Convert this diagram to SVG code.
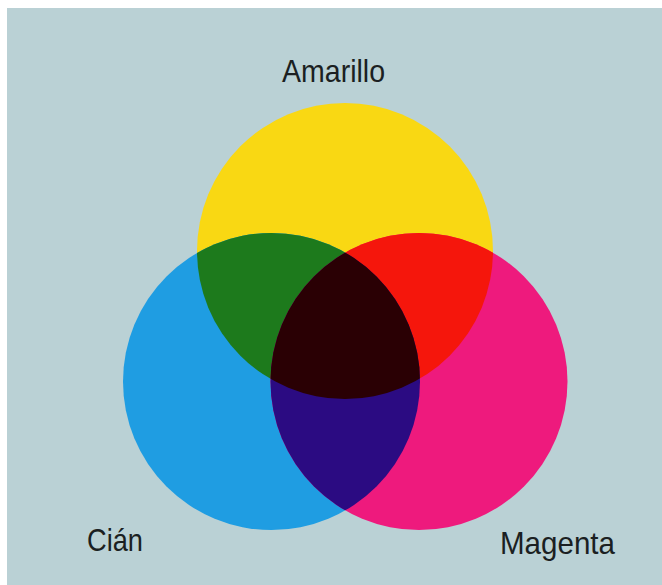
<svg xmlns="http://www.w3.org/2000/svg" width="662" height="585" viewBox="0 0 662 585">
<style>
.lbl{font-family:"Liberation Sans","DejaVu Sans",sans-serif;font-size:32px;fill:#1b1f22}
</style>
<defs>
<clipPath id="cy"><circle cx="345" cy="251" r="148"/></clipPath>
<clipPath id="cc"><circle cx="271.5" cy="381.5" r="148.5"/></clipPath>
<clipPath id="cm"><circle cx="419" cy="381.5" r="148.5"/></clipPath>
</defs>
<rect x="0" y="0" width="662" height="585" fill="#ffffff"/>
<rect x="7" y="8" width="655" height="577" fill="#bad1d5"/>
<g id="amarillo">
<circle cx="345" cy="251" r="148" fill="#f9d813"/>
<text class="lbl" x="282" y="82" textLength="103" lengthAdjust="spacingAndGlyphs">Amarillo</text>
</g>
<g id="cian">
<circle cx="271.5" cy="381.5" r="148.5" fill="#1f9de2"/>
<text class="lbl" x="87" y="551" textLength="56" lengthAdjust="spacingAndGlyphs">Cián</text>
</g>
<g id="magenta">
<circle cx="419" cy="381.5" r="148.5" fill="#ee1a7d"/>
<text class="lbl" x="500" y="554" textLength="115" lengthAdjust="spacingAndGlyphs">Magenta</text>
</g>
<g id="verde" clip-path="url(#cy)">
<circle cx="271.5" cy="381.5" r="148.5" fill="#1d7a1c"/>
</g>
<g id="rojo" clip-path="url(#cy)">
<circle cx="419" cy="381.5" r="148.5" fill="#f5160c"/>
</g>
<g id="azul" clip-path="url(#cc)">
<circle cx="419" cy="381.5" r="148.5" fill="#2b0b82"/>
</g>
<g id="negro" clip-path="url(#cy)">
<g clip-path="url(#cc)">
<circle cx="419" cy="381.5" r="148.5" fill="#2a0004"/>
</g>
</g>
</svg>
